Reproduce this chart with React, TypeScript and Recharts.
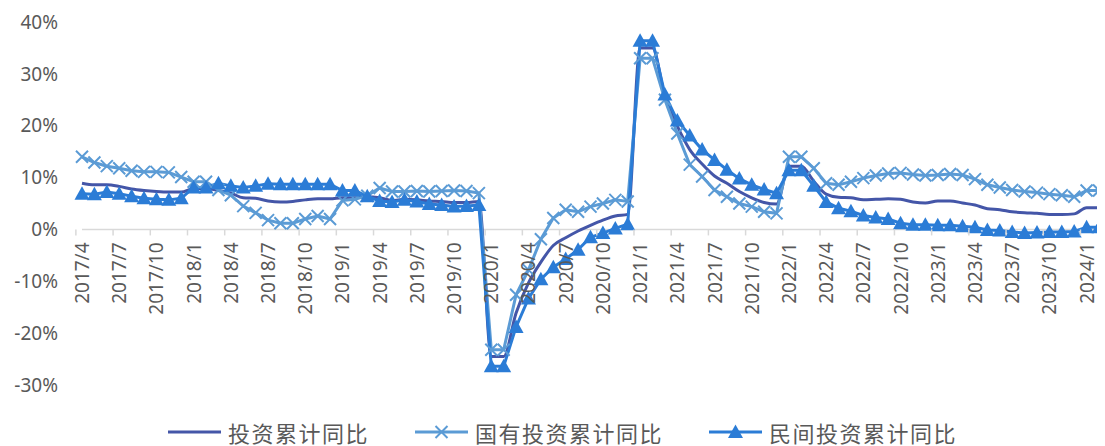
import { LineChart, Line, XAxis, YAxis, ReferenceLine, Legend } from "recharts";

// 月份（1月沿用1-2月累计值）
const months = [
  "2017/4", "2017/5", "2017/6", "2017/7", "2017/8", "2017/9", "2017/10", "2017/11", "2017/12",
  "2018/1", "2018/2", "2018/3", "2018/4", "2018/5", "2018/6", "2018/7", "2018/8", "2018/9", "2018/10", "2018/11", "2018/12",
  "2019/1", "2019/2", "2019/3", "2019/4", "2019/5", "2019/6", "2019/7", "2019/8", "2019/9", "2019/10", "2019/11", "2019/12",
  "2020/1", "2020/2", "2020/3", "2020/4", "2020/5", "2020/6", "2020/7", "2020/8", "2020/9", "2020/10", "2020/11", "2020/12",
  "2021/1", "2021/2", "2021/3", "2021/4", "2021/5", "2021/6", "2021/7", "2021/8", "2021/9", "2021/10", "2021/11", "2021/12",
  "2022/1", "2022/2", "2022/3", "2022/4", "2022/5", "2022/6", "2022/7", "2022/8", "2022/9", "2022/10", "2022/11", "2022/12",
  "2023/1", "2023/2", "2023/3", "2023/4", "2023/5", "2023/6", "2023/7", "2023/8", "2023/9", "2023/10", "2023/11", "2023/12",
  "2024/1", "2024/2",
];

const investYoY = [
  8.9, 8.6, 8.6, 8.3, 7.8, 7.5, 7.3, 7.2, 7.2,
  7.9, 7.9, 7.5, 7.0, 6.1, 6.0, 5.5, 5.3, 5.4, 5.7, 5.9, 5.9,
  6.1, 6.1, 6.3, 6.1, 5.6, 5.8, 5.7, 5.5, 5.4, 5.2, 5.2, 5.4,
  -24.5, -24.5, -16.1, -10.3, -6.3, -3.1, -1.6, -0.3, 0.8, 1.8, 2.6, 2.9,
  35.0, 35.0, 25.6, 19.9, 15.4, 12.6, 10.3, 8.9, 7.3, 6.1, 5.2, 4.9,
  12.2, 12.2, 9.3, 6.8, 6.2, 6.1, 5.7, 5.8, 5.9, 5.8, 5.3, 5.1,
  5.5, 5.5, 5.1, 4.7, 4.0, 3.8, 3.4, 3.2, 3.1, 2.9, 2.9, 3.0,
  4.2, 4.2,
];

const stateYoY = [
  14.0, 12.9, 12.2, 11.8, 11.3, 11.1, 11.1, 11.0, 10.1,
  9.2, 9.2, 7.6, 6.6, 4.5, 3.2, 1.8, 1.2, 1.2, 2.0, 2.6, 2.0,
  5.6, 5.8, 6.5, 8.0, 7.3, 7.3, 7.4, 7.3, 7.4, 7.5, 7.4, 7.0,
  -23.2, -23.2, -12.6, -7.8, -1.9, 2.2, 3.8, 3.4, 4.4, 5.0, 5.7, 5.4,
  33.0, 33.0, 25.0, 18.5, 12.5, 10.2, 7.6, 6.3, 5.0, 4.4, 3.4, 3.1,
  14.0, 14.0, 11.8, 8.9, 8.6, 9.2, 9.9, 10.4, 10.8, 10.9, 10.6, 10.4,
  10.5, 10.7, 10.5, 9.7, 8.6, 8.1, 7.6, 7.3, 7.1, 6.8, 6.6, 6.3,
  7.5, 7.5,
];

const privateYoY = [
  6.9, 6.8, 7.2, 6.9, 6.4, 6.0, 5.8, 5.7, 6.0,
  8.1, 8.1, 8.9, 8.4, 8.1, 8.4, 8.8, 8.7, 8.7, 8.7, 8.7, 8.7,
  7.5, 7.5, 6.4, 5.5, 5.3, 5.7, 5.4, 4.9, 4.7, 4.4, 4.5, 4.7,
  -26.4, -26.4, -18.8, -13.3, -9.6, -7.3, -5.7, -3.9, -1.5, -0.7, 0.2, 1.0,
  36.4, 36.4, 26.0, 21.0, 18.1, 15.4, 13.4, 11.5, 9.8, 8.6, 7.7, 7.0,
  11.4, 11.4, 8.4, 5.3, 4.1, 3.5, 2.7, 2.3, 2.0, 1.2, 0.9, 0.9,
  0.8, 0.8, 0.6, 0.4, -0.1, -0.2, -0.5, -0.7, -0.6, -0.5, -0.5, -0.4,
  0.4, 0.4,
];

const yTicks = [-30, -20, -10, 0, 10, 20, 30, 40];

const NAME_INVEST = "投资累计同比";
const NAME_STATE = "国有投资累计同比";
const NAME_PRIVATE = "民间投资累计同比";

const INVEST_COLOR = "#4456a8";
const STATE_COLOR = "#5b9bd5";
const PRIVATE_COLOR = "#2b7cd6";
const TEXT_COLOR = "#595959";
const AXIS_COLOR = "#d9d9d9";
const LATIN_FONT = "'Noto Sans', 'Liberation Sans', sans-serif";
const CJK_FONT = "'Noto Sans CJK SC', sans-serif";

const W = 1097;
const H = 438;
const MARGIN = { top: 14, right: 6, left: 0, bottom: 0 };
const Y_AXIS_W = 74;
const X_AXIS_H = 33;
const LEGEND_H = 28;
const Y_MIN = -30;
const Y_MAX = 40;
const PLOT_TOP = MARGIN.top;
const PLOT_H = H - MARGIN.top - MARGIN.bottom - X_AXIS_H - LEGEND_H;
const PLOT_W = W - MARGIN.left - MARGIN.right - Y_AXIS_W;
const BAND = PLOT_W / months.length;
const ZERO_Y = PLOT_TOP + (PLOT_H * Y_MAX) / (Y_MAX - Y_MIN);

const data = months.map((m, i) => ({
  month: m,
  invest: investYoY[i],
  state: stateYoY[i],
  priv: privateYoY[i],
}));

// Excel 风格：分类轴贴在 0 线上，刻度在分类边界
function MonthTick(props: any) {
  const { x, payload } = props;
  const edge = x - BAND / 2;
  const tx = x + 7;
  const ty = ZERO_Y + 13;
  return (
    <g>
      <line x1={edge} x2={edge} y1={ZERO_Y} y2={ZERO_Y + 6} stroke={AXIS_COLOR} strokeWidth={1.5} />
      <text
        transform={`translate(${tx},${ty}) rotate(-90)`}
        textAnchor="end"
        fontSize={19}
        fontFamily={LATIN_FONT}
        fill={TEXT_COLOR}
      >
        {payload.value}
      </text>
    </g>
  );
}

function crossDot(props: any) {
  const { cx, cy, index } = props;
  if (cx == null || cy == null) return <g key={`s-${index}`} />;
  const r = 6;
  return (
    <path
      key={`s-${index}`}
      d={`M${cx - r},${cy - r}L${cx + r},${cy + r}M${cx - r},${cy + r}L${cx + r},${cy - r}`}
      stroke={STATE_COLOR}
      strokeWidth={2}
      fill="none"
    />
  );
}

function triangleDot(props: any) {
  const { cx, cy, index } = props;
  if (cx == null || cy == null) return <g key={`p-${index}`} />;
  return (
    <path
      key={`p-${index}`}
      d={`M${cx},${cy - 7.5}L${cx + 7.5},${cy + 6}L${cx - 7.5},${cy + 6}Z`}
      fill={PRIVATE_COLOR}
    />
  );
}

function ChartLegend() {
  const items = [
    { name: NAME_INVEST, color: INVEST_COLOR, marker: "none" },
    { name: NAME_STATE, color: STATE_COLOR, marker: "cross" },
    { name: NAME_PRIVATE, color: PRIVATE_COLOR, marker: "triangle" },
  ];
  return (
    <div
      style={{
        display: "flex",
        justifyContent: "center",
        alignItems: "center",
        height: LEGEND_H,
        gap: 46,
        paddingLeft: 18,
        fontFamily: CJK_FONT,
        fontSize: 22,
        lineHeight: `${LEGEND_H}px`,
        color: TEXT_COLOR,
      }}
    >
      {items.map((it) => (
        <div key={it.name} style={{ display: "flex", alignItems: "center", gap: 7 }}>
          <svg width={53} height={20}>
            <line x1={0} x2={53} y1={10} y2={10} stroke={it.color} strokeWidth={3} />
            {it.marker === "cross" && (
              <path d="M20.5,4L32.5,16M20.5,16L32.5,4" stroke={it.color} strokeWidth={2} fill="none" />
            )}
            {it.marker === "triangle" && <path d="M26.5,2.5L34,16L19,16Z" fill={it.color} />}
          </svg>
          <span style={{ letterSpacing: 1.5 }}>{it.name}</span>
        </div>
      ))}
    </div>
  );
}

export default function App() {
  return (
    <div style={{ width: W, height: H, background: "#fff" }}>
      <LineChart width={W} height={H} data={data} margin={MARGIN}>
        <XAxis
          dataKey="month"
          height={X_AXIS_H}
          interval={2}
          axisLine={false}
          tickLine={false}
          tick={<MonthTick />}
        />
        <YAxis
          type="number"
          width={Y_AXIS_W}
          domain={[Y_MIN, Y_MAX]}
          ticks={yTicks}
          tickFormatter={(v) => `${v}%`}
          axisLine={false}
          tickLine={false}
          tickSize={0}
          tickMargin={24}
          tick={{ fill: TEXT_COLOR, fontSize: 19, fontFamily: LATIN_FONT }}
        />
        <ReferenceLine y={0} stroke={AXIS_COLOR} strokeWidth={1.5} />
        <Legend
          verticalAlign="bottom"
          height={LEGEND_H}
          content={() => <ChartLegend />}
        />
        <Line
          dataKey="invest"
          name={NAME_INVEST}
          type="monotone"
          stroke={INVEST_COLOR}
          strokeWidth={3}
          dot={false}
          activeDot={false}
          isAnimationActive={false}
        />
        <Line
          dataKey="state"
          name={NAME_STATE}
          type="linear"
          stroke={STATE_COLOR}
          strokeWidth={3}
          dot={crossDot}
          activeDot={false}
          isAnimationActive={false}
        />
        <Line
          dataKey="priv"
          name={NAME_PRIVATE}
          type="linear"
          stroke={PRIVATE_COLOR}
          strokeWidth={3}
          dot={triangleDot}
          activeDot={false}
          isAnimationActive={false}
        />
      </LineChart>
    </div>
  );
}
